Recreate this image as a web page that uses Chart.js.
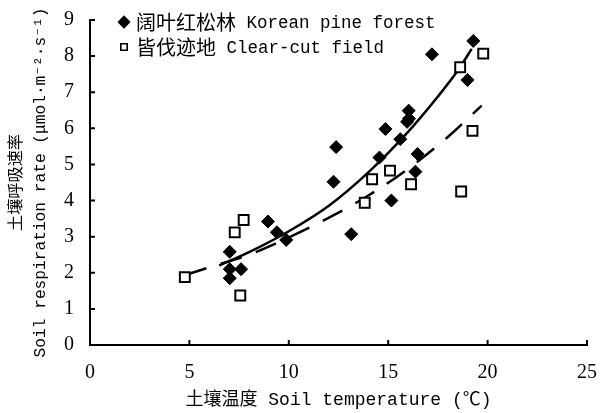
<!DOCTYPE html>
<html lang="zh">
<head>
<meta charset="UTF-8">
<title>土壤呼吸速率与土壤温度</title>
<script src="https://cdn.jsdelivr.net/npm/chart.js@4"></script>
<style>
  html, body { margin: 0; padding: 0; background: #fff; }
</style>
</head>
<body>
<canvas id="myChart" width="605" height="413"></canvas>
<script>
// 阔叶红松林 Korean pine forest
const pineTemp = [7.03, 7.03, 7.03, 7.6, 8.95, 9.4, 9.87, 12.25, 12.38, 13.14, 14.56, 14.86, 15.16, 15.61, 16.03, 16.05, 15.95, 16.37, 16.48, 17.2, 18.99, 19.28];
const pineResp = [2.58, 2.10, 1.85, 2.10, 3.42, 3.12, 2.91, 4.52, 5.48, 3.07, 5.19, 5.98, 4.00, 5.70, 6.49, 6.27, 6.18, 4.80, 5.29, 8.05, 7.34, 8.42];

// 皆伐迹地 Clear-cut field
const clearTemp = [4.77, 7.28, 7.73, 7.56, 13.82, 14.19, 15.09, 16.15, 18.67, 18.62, 19.24, 19.78];
const clearResp = [1.88, 3.12, 3.46, 1.37, 3.94, 4.59, 4.83, 4.45, 4.25, 7.69, 5.93, 8.07];

// trend curves
const pineFitTemp = [6.5, 8, 10, 12, 14, 16, 17.5, 18.5, 19.2];
const pineFitResp = [2.2, 2.57, 3.15, 3.85, 4.78, 5.9, 6.88, 7.6, 8.2];
const clearFitTemp = [4.8, 6, 8, 10, 12, 14, 16, 18, 19.7];
const clearFitResp = [1.94, 2.15, 2.5, 2.98, 3.52, 4.14, 4.88, 5.76, 6.63];

const xTicks = [0, 5, 10, 15, 20, 25];
const yTicks = [0, 1, 2, 3, 4, 5, 6, 7, 8, 9];

const pairs = (xs, ys) => xs.map((x, i) => ({ x: x, y: ys[i] }));

const monoCJK = "'Liberation Mono', 'Noto Sans CJK SC', monospace";

// short tick marks pointing into the plot
const innerTicks = {
  id: 'innerTicks',
  afterDraw(chart) {
    const { ctx, chartArea, scales } = chart;
    ctx.save();
    ctx.strokeStyle = '#000';
    ctx.lineWidth = 2;
    ctx.beginPath();
    xTicks.forEach(v => {
      const px = scales.x.getPixelForValue(v);
      ctx.moveTo(px, chartArea.bottom);
      ctx.lineTo(px, chartArea.bottom - 5);
    });
    yTicks.forEach(v => {
      const py = scales.y.getPixelForValue(v);
      ctx.moveTo(chartArea.left, py);
      ctx.lineTo(chartArea.left + 5, py);
    });
    ctx.stroke();
    ctx.restore();
  }
};

// legend inside the top-left corner
const cornerLegend = {
  id: 'cornerLegend',
  afterDraw(chart) {
    const { ctx } = chart;
    const rows = [
      { style: 'rectRot', fill: '#000', cjk: '阔叶红松林', latin: 'Korean pine forest', y: 22 },
      { style: 'rect', fill: '#fff', cjk: '皆伐迹地', latin: 'Clear-cut field', y: 47 }
    ];
    ctx.save();
    rows.forEach(r => {
      ctx.fillStyle = r.fill;
      ctx.strokeStyle = '#000';
      ctx.lineWidth = 1.6;
      Chart.helpers.drawPoint(ctx, { pointStyle: r.style, radius: r.style === 'rect' ? 4.5 : 5.5, borderWidth: 1.6 }, 124, r.y);
      ctx.fillStyle = '#000';
      ctx.textBaseline = 'middle';
      ctx.textAlign = 'left';
      ctx.font = "20px 'Noto Sans CJK SC'";
      ctx.fillText(r.cjk, 136, r.y);
      const w = ctx.measureText(r.cjk).width;
      ctx.font = "17.5px 'Liberation Mono'";
      ctx.fillText(' ' + r.latin, 136 + w, r.y + 1);
    });
    ctx.restore();
  }
};

const ctx = document.getElementById('myChart');
const myChart = new Chart(ctx, {
  type: 'scatter',
  data: {
    datasets: [
      {
        label: '阔叶红松林 Korean pine forest',
        data: pairs(pineTemp, pineResp),
        pointStyle: 'rectRot',
        pointRadius: 6.5,
        backgroundColor: '#000',
        borderColor: '#000',
        borderWidth: 1
      },
      {
        label: '皆伐迹地 Clear-cut field',
        data: pairs(clearTemp, clearResp),
        pointStyle: 'rect',
        pointRadius: 7,
        backgroundColor: '#fff',
        borderColor: '#000',
        borderWidth: 2
      },
      {
        type: 'line',
        label: 'pine trend',
        data: pairs(pineFitTemp, pineFitResp),
        borderColor: '#000',
        borderWidth: 2.5,
        pointRadius: 0,
        cubicInterpolationMode: 'monotone',
        fill: false
      },
      {
        type: 'line',
        label: 'clear-cut trend',
        data: pairs(clearFitTemp, clearFitResp),
        borderColor: '#000',
        borderWidth: 2.5,
        borderDash: [22, 15],
        pointRadius: 0,
        cubicInterpolationMode: 'monotone',
        fill: false
      }
    ]
  },
  options: {
    responsive: false,
    animation: false,
    layout: { padding: { top: 20, right: 17, left: 0, bottom: 0 } },
    plugins: {
      legend: { display: false },
      tooltip: { enabled: false }
    },
    scales: {
      x: {
        type: 'linear',
        min: 0,
        max: 25,
        afterBuildTicks: s => { s.ticks = xTicks.map(v => ({ value: v })); },
        afterFit: s => { s.height = 68; },
        grid: { display: false },
        border: { display: true, color: '#000', width: 2 },
        ticks: {
          color: '#000',
          padding: 8,
          font: { family: "'Liberation Serif'", size: 20 }
        },
        title: {
          display: true,
          text: '土壤温度 Soil temperature (℃)',
          color: '#000',
          font: { family: monoCJK, size: 18 },
          padding: { top: 0, bottom: 2 }
        }
      },
      y: {
        type: 'linear',
        min: 0,
        max: 9,
        afterBuildTicks: s => { s.ticks = yTicks.map(v => ({ value: v })); },
        afterFit: s => { s.width = 90; },
        grid: { display: false },
        border: { display: true, color: '#000', width: 2 },
        ticks: {
          color: '#000',
          padding: 8,
          font: { family: "'Liberation Serif'", size: 20 }
        },
        title: {
          display: true,
          text: ['土壤呼吸速率', 'Soil respiration rate (μmol·m⁻²·s⁻¹)'],
          color: '#000',
          font: { family: monoCJK, size: 16.2, lineHeight: 1.45 },
          padding: { top: 5, bottom: 0 }
        }
      }
    }
  },
  plugins: [innerTicks, cornerLegend]
});
</script>
</body>
</html>
